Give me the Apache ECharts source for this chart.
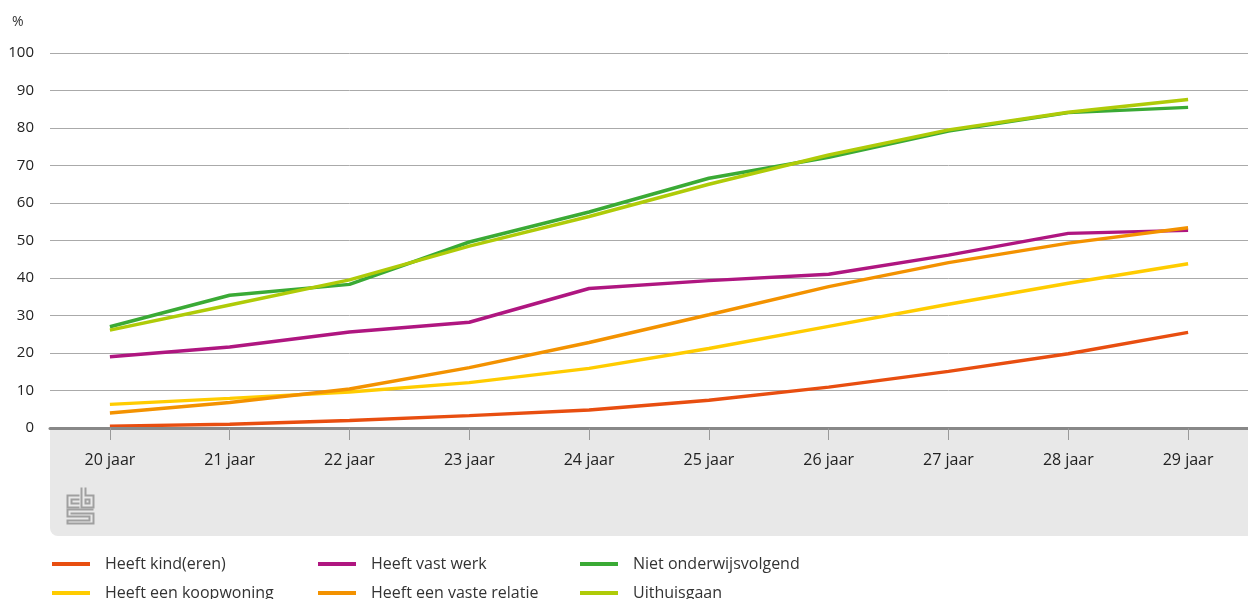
<!DOCTYPE html>
<html><head><meta charset="utf-8">
<script src="https://cdn.jsdelivr.net/npm/echarts@6/dist/echarts.min.js"></script>
<style>html,body{margin:0;padding:0;background:#fff}#c{width:1248px;height:599px}</style>
</head><body><div id="c"></div>
<script>
const categories = ['20 jaar','21 jaar','22 jaar','23 jaar','24 jaar','25 jaar','26 jaar','27 jaar','28 jaar','29 jaar'];
const kind = [0.5, 1.0, 2.0, 3.3, 4.8, 7.4, 10.9, 15.1, 19.8, 25.5];
const koopwoning = [6.3, 7.9, 9.6, 12.1, 15.9, 21.2, 27.1, 33.0, 38.6, 43.8];
const vastWerk = [19.0, 21.6, 25.6, 28.2, 37.2, 39.3, 41.0, 46.1, 51.9, 52.7];
const vasteRelatie = [4.0, 6.8, 10.4, 16.1, 22.8, 30.2, 37.7, 44.1, 49.3, 53.4];
const nietOnderwijs = [27.0, 35.4, 38.3, 49.6, 57.6, 66.6, 72.2, 79.2, 84.1, 85.5];
const uithuis = [26.1, 32.8, 39.5, 48.5, 56.4, 65.0, 72.8, 79.5, 84.2, 87.6];
const yTicks = [0,10,20,30,40,50,60,70,80,90,100];

const chart = echarts.init(document.getElementById('c'), null, {renderer:'canvas'});
const font = '"Open Sans", "Noto Sans", sans-serif';
const C = {kind:'#e84e10', koop:'#ffcc00', werk:'#af1680', rel:'#f39200', niet:'#3aaa35', uit:'#afcb08'};
function s(name, data, color){
  return {name, type:'line', data, symbol:'none', smooth:false,
    lineStyle:{width:3.5, color}, itemStyle:{color}, emphasis:{disabled:true}, z:3};
}
function lg(name, left, top){
  return {left, top, data:[{name, icon:'rect'}], itemWidth:38, itemHeight:4, selectedMode:false,
    textStyle:{fontFamily:font, fontSize:16, color:'#333', padding:[0,0,0,10]}};
}
chart.setOption({
  animation:false,
  grid:{left:50, right:-2, top:53, bottom:171, containLabel:false},
  graphic:[
    {type:'rect', z:0, shape:{x:50, y:429, width:1198, height:107, r:[0,0,0,8]}, style:{fill:'#e8e8e8'}},
    {type:'text', left:12, top:15, style:{text:'%', font:'14px '+font, fill:'#333'}},
    {type:'group', left:65, top:485, children:[
      {type:'polyline', shape:{points:[[13,8],[1,8],[1,20],[13,20]]}, style:{stroke:'#a0a0a0', fill:null, lineWidth:2}},
      {type:'polyline', shape:{points:[[13,12],[5,12],[5,16],[13,16]]}, style:{stroke:'#a0a0a0', fill:null, lineWidth:2}},
      {type:'polyline', shape:{points:[[15,0],[15,20],[27,20],[27,8],[19,8],[19,0]]}, style:{stroke:'#a0a0a0', fill:null, lineWidth:2}},
      {type:'rect', shape:{x:19, y:12, width:4, height:4}, style:{stroke:'#a0a0a0', fill:null, lineWidth:2}},
      {type:'polyline', shape:{points:[[27,22],[1,22],[1,29],[23,29],[23,33],[1,33],[1,36],[27,36],[27,26],[5,26],[5,25]]}, style:{stroke:'#a0a0a0', fill:null, lineWidth:2}}
    ]}
  ],
  legend:[
    lg('Heeft kind(eren)', 47, 551),
    lg('Heeft een koopwoning', 47, 580),
    lg('Heeft vast werk', 313, 551),
    lg('Heeft een vaste relatie', 313, 580),
    lg('Niet onderwijsvolgend', 575, 551),
    lg('Uithuisgaan', 575, 580)
  ],
  xAxis:{type:'category', data:categories, boundaryGap:true,
    axisLine:{show:true, lineStyle:{color:'#888', width:3}},
    axisTick:{show:true, alignWithLabel:true, length:12, lineStyle:{color:'#999', width:1}},
    axisLabel:{margin:24, fontFamily:font, fontSize:16, color:'#222'},
    splitLine:{show:false}, z:4},
  yAxis:{type:'value', min:yTicks[0], max:yTicks[yTicks.length-1], interval:10,
    axisLine:{show:false}, axisTick:{show:false},
    axisLabel:{margin:16, fontFamily:font, fontSize:15, color:'#222'},
    splitLine:{lineStyle:{color:'#aaa', width:1}}},
  series:[
    s('Heeft kind(eren)', kind, C.kind),
    s('Heeft een koopwoning', koopwoning, C.koop),
    s('Heeft vast werk', vastWerk, C.werk),
    s('Heeft een vaste relatie', vasteRelatie, C.rel),
    s('Niet onderwijsvolgend', nietOnderwijs, C.niet),
    s('Uithuisgaan', uithuis, C.uit)
  ]
});
</script></body></html>
